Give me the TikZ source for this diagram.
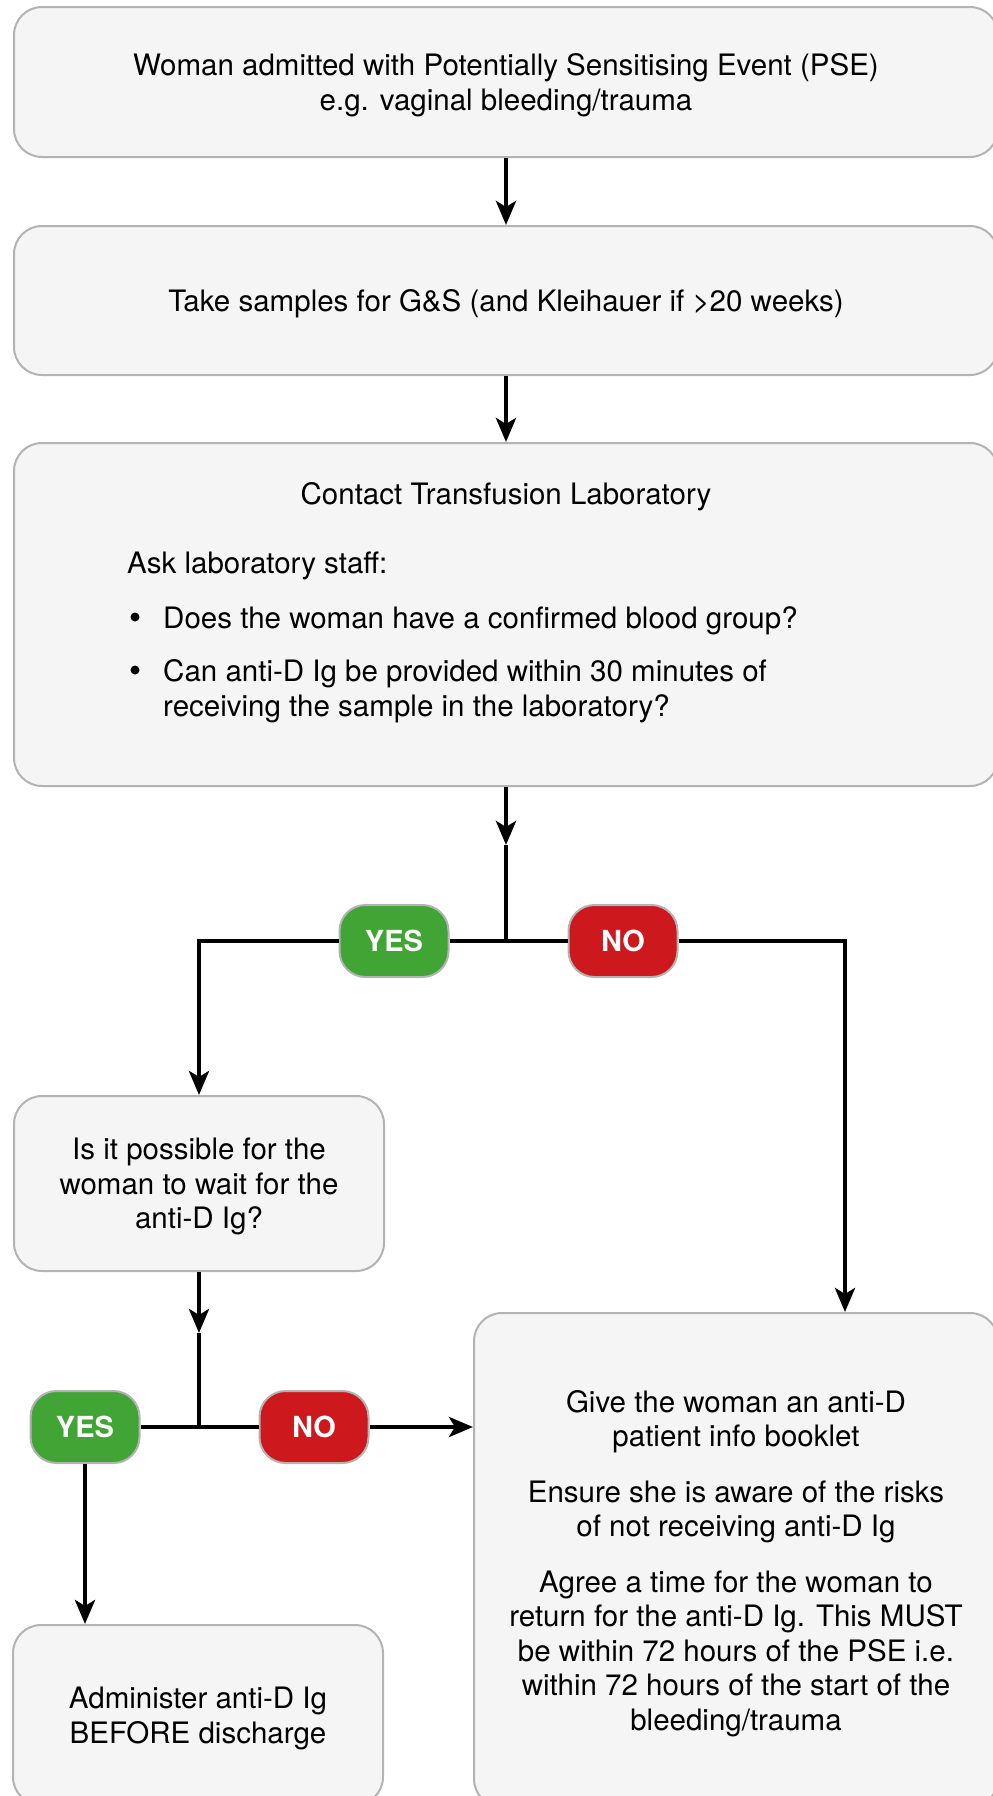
\documentclass[tikz,border=0pt]{standalone}
\usepackage{fontspec}
\setmainfont{TeX Gyre Heros}
\usetikzlibrary{arrows.meta}
\definecolor{boxfill}{HTML}{F5F5F5}
\definecolor{boxline}{HTML}{B3B3B3}
\definecolor{yesgreen}{HTML}{41A535}
\definecolor{nored}{HTML}{CD181E}
\tikzset{
  stepbox/.style={draw=boxline, fill=boxfill, line width=2pt, rounded corners=28pt,
    align=center, inner sep=0pt, text depth=0pt, font=\fontsize{29.5}{34.5}\selectfont},
  answer/.style={draw=boxline, line width=2pt, rounded corners=26pt, minimum width=109pt,
    minimum height=72pt, inner sep=0pt, text=white, font=\fontsize{29}{34}\selectfont\bfseries},
  txt/.style={inner sep=0pt, text depth=0pt, font=\fontsize{29.5}{34.5}\selectfont},
  dot/.style={circle, fill=black, inner sep=0pt, minimum size=9pt},
  flow/.style={line width=4.5pt, -{Stealth[length=24pt,width=20pt,inset=6pt]}},
  link/.style={line width=4.5pt},
}
\begin{document}
\begin{tikzpicture}[x=1pt,y=-1pt]
\useasboundingbox (0,0) rectangle (993,1796);
\clip (0,0) rectangle (993,1796);
\node[stepbox, minimum width=984pt, minimum height=150pt] (admit) at (506,82)
  {Woman admitted with Potentially Sensitising Event (PSE)\\e.g. vaginal bleeding/trauma};
\node[stepbox, minimum width=984pt, minimum height=149pt] (samples) at (506,300.5)
  {Take samples for G\&S (and Kleihauer if >20 weeks)};
\node[stepbox, minimum width=984pt, minimum height=343pt] (contact) at (506,614.5) {};
\node[txt] (contacttitle) at (506,493) {Contact Transfusion Laboratory};
\node[txt, anchor=west] (ask) at (127,563) {Ask laboratory staff:};
\node[dot] (dot1) at (135,617) {};
\node[txt, anchor=west] (group) at (163,618) {Does the woman have a confirmed blood group?};
\node[dot] (dot2) at (135,670) {};
\node[txt, anchor=west, align=left] (provide) at (163,688)
  {Can anti-D Ig be provided within 30 minutes of\\receiving the sample in the laboratory?};
\node[stepbox, minimum width=370pt, minimum height=175pt] (wait) at (199,1183.5)
  {Is it possible for the\\woman to wait for the\\anti-D Ig?};
\node[stepbox, minimum width=524pt, minimum height=494pt] (booklet) at (736,1560)
  {Give the woman an anti-D\\patient info booklet\\[21pt]Ensure she is aware of the risks\\of not receiving anti-D Ig\\[21pt]Agree a time for the woman to\\return for the anti-D Ig. This MUST\\be within 72 hours of the PSE i.e.\\within 72 hours of the start of the\\bleeding/trauma};
\node[stepbox, minimum width=370pt, minimum height=180pt] (administer) at (198,1715)
  {Administer anti-D Ig\\BEFORE discharge};
\node[answer, fill=yesgreen] (yes1) at (394,941) {YES};
\node[answer, fill=nored] (no1) at (623,941) {NO};
\node[answer, fill=yesgreen] (yes2) at (85,1427) {YES};
\node[answer, fill=nored] (no2) at (314,1427) {NO};
\coordinate (mid1) at (506,845);
\coordinate (split1) at (506,941);
\coordinate (mid2) at (199,1333);
\coordinate (split2) at (199,1427);
\draw[flow] (admit) -- (samples);
\draw[flow] (samples) -- (contact);
\draw[flow] (contact.south) -- (mid1);
\draw[link] (mid1) -- (split1);
\draw[link] (yes1.east) -- (split1) -- (no1.west);
\draw[flow] (yes1.west) -| (wait.north);
\draw[flow] (no1.east) -| ([xshift=109pt]booklet.north);
\draw[flow] (wait.south) -- (mid2);
\draw[link] (mid2) -- (split2);
\draw[link] (yes2.east) -- (split2) -- (no2.west);
\draw[flow] (no2.east) -- (no2.east -| booklet.west);
\draw[flow] (yes2.south) -- (yes2.south |- administer.north);
\end{tikzpicture}
\end{document}
